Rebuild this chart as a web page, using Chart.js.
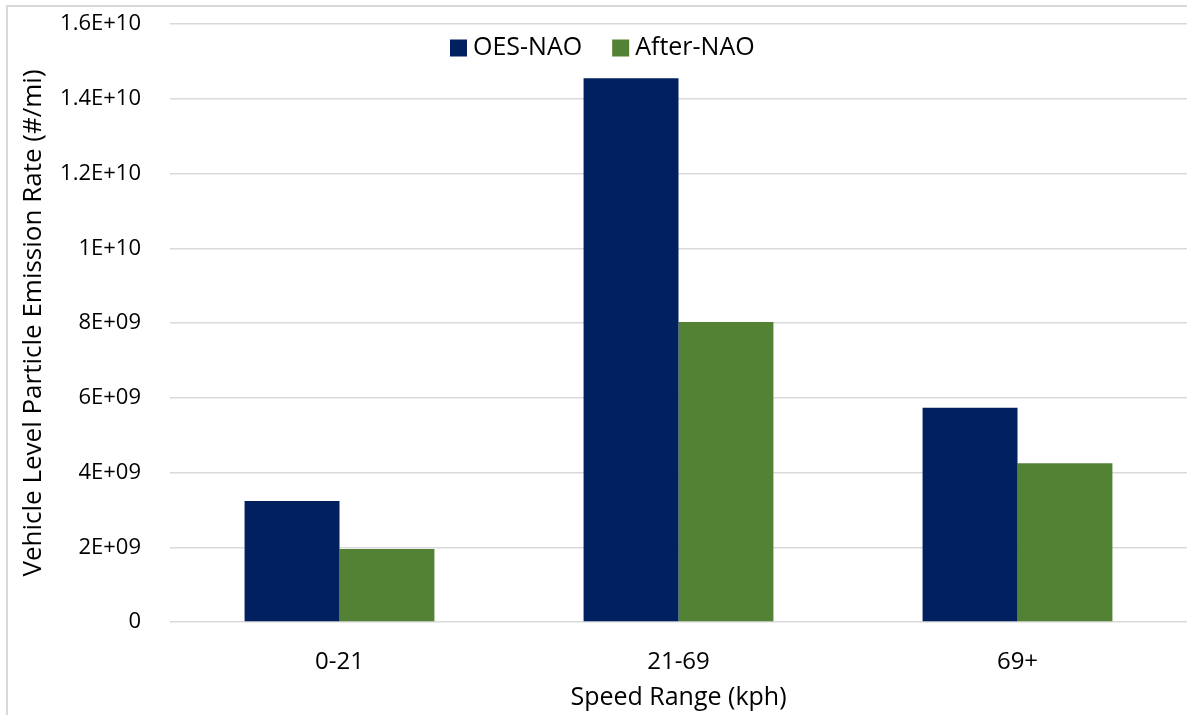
<!DOCTYPE html>
<html>
<head>
    <meta charset='UTF-8'>
    <script src="https://cdn.jsdelivr.net/npm/chart.js"></script>
    <style>
        body { margin: 0; overflow: hidden; background: #fff; }
        #wrap { position: relative; width: 1187px; height: 715px; overflow: hidden; }
        #frame { position: absolute; left: 6px; top: 5px; width: 1300px; height: 800px;
                 border: 2px solid #d9d9d9; pointer-events: none; }
    </style>
</head>
<title>Particle Emission Rate</title>
<body>
    <div id="wrap">
        <canvas id="myChart" width="1187" height="715"></canvas>
        <div id="frame"></div>
    </div>
    <script>
        const categories = ['0-21', '21-69', '69+'];
        const oesNao = [3.24e9, 14.55e9, 5.73e9];
        const afterNao = [1.95e9, 8.03e9, 4.25e9];
        const yTickLabels = ['0', '2E+09', '4E+09', '6E+09', '8E+09', '1E+10', '1.2E+10', '1.4E+10', '1.6E+10'];

        const font = "'Open Sans', 'DejaVu Sans', sans-serif";

        // legend drawn inside the plot area, like the original
        const innerLegend = {
            id: 'innerLegend',
            afterDraw(chart) {
                const ctx = chart.ctx;
                ctx.save();
                ctx.font = '25px ' + font;
                ctx.textBaseline = 'middle';
                let x = 450;
                const y = 48;
                chart.data.datasets.forEach(ds => {
                    ctx.fillStyle = ds.backgroundColor;
                    ctx.fillRect(x, y - 8.5, 17, 17);
                    ctx.fillStyle = '#000';
                    ctx.fillText(ds.label, x + 23, y);
                    x += 23 + ctx.measureText(ds.label).width + 30;
                });
                ctx.restore();
            }
        };

        const data = {
            labels: categories,
            datasets: [
                { label: 'OES-NAO', backgroundColor: '#002060', data: oesNao },
                { label: 'After-NAO', backgroundColor: '#548235', data: afterNao }
            ]
        };

        const config = {
            type: 'bar',
            data: data,
            options: {
                responsive: false,
                animation: false,
                layout: { padding: { top: 24, right: 0, bottom: 0, left: 0 } },
                datasets: { bar: { categoryPercentage: 0.56, barPercentage: 1.0, borderWidth: 0 } },
                plugins: {
                    legend: { display: false },
                    tooltip: { enabled: false }
                },
                scales: {
                    x: {
                        grid: { display: false, drawTicks: false },
                        border: { display: false },
                        ticks: { color: '#000', font: { family: font, size: 24 }, padding: 26 },
                        title: { display: true, text: 'Speed Range (kph)', color: '#000',
                                 font: { family: font, size: 25 }, padding: { top: 0, bottom: 2 } },
                        afterFit: s => { s.height = 93; }
                    },
                    y: {
                        min: 0,
                        max: 1.6e10,
                        afterBuildTicks: s => {
                            s.ticks = yTickLabels.map((t, i) => ({ value: i * 2e9 }));
                        },
                        grid: { color: '#d9d9d9', lineWidth: 1.5, drawTicks: false },
                        border: { display: false },
                        ticks: {
                            color: '#000',
                            font: { family: font, size: 22 },
                            padding: 29,
                            callback: (v, i) => yTickLabels[i]
                        },
                        title: { display: true, text: 'Vehicle Level Particle Emission Rate (#/mi)', color: '#000',
                                 font: { family: font, size: 26 }, padding: { top: 18, bottom: 0 } },
                        afterFit: s => {
                            s.width = 170;
                            s.paddingTop = 0;
                            s.paddingBottom = 0;
                        }
                    }
                }
            },
            plugins: [innerLegend]
        };
        const myChart = new Chart(document.getElementById('myChart'), config);
    </script>
</body>
</html>
